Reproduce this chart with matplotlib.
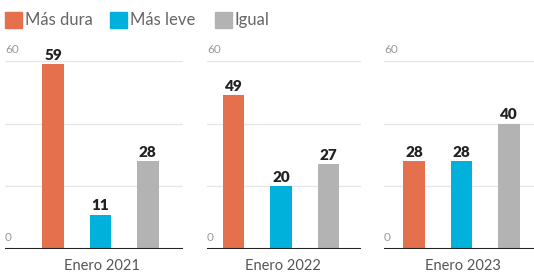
import matplotlib.pyplot as plt
from matplotlib.patches import Rectangle

plt.rcParams['font.family'] = ['Lato', 'DejaVu Sans']

periods = ['Enero 2021', 'Enero 2022', 'Enero 2023']
series = ['Más dura', 'Más leve', 'Igual']
mas_dura = [59, 49, 28]
mas_leve = [11, 20, 28]
igual = [28, 27, 40]
colors = ['#E5704D', '#00B2DB', '#B3B3B3']

W, H = 534, 275
fig = plt.figure(figsize=(W / 100, H / 100), dpi=100)
fig.patch.set_facecolor('white')

# panel extents in pixels (left, right) and the x range shown in each
panels = [(5, 183, -1.01, 2.74), (207, 361, -0.56, 2.68), (384, 534, -0.63, 2.53)]
y0, y1 = 249, 61

for i, (px0, px1, xa, xb) in enumerate(panels):
    ax = fig.add_axes([px0 / W, (H - y0) / H, (px1 - px0) / W, (y0 - y1) / H])
    ax.set_xlim(xa, xb)
    ax.set_ylim(0, 60)
    ax.axis('off')
    for g in [20, 40, 60]:
        ax.axhline(g, color='#e6e6e6', lw=1, zorder=0)
    vals = [mas_dura[i], mas_leve[i], igual[i]]
    ax.bar(range(3), vals, width=0.45, color=colors, zorder=2)
    for x, v in enumerate(vals):
        ax.text(x, v + 0.8, str(v), ha='center', va='bottom', fontsize=11,
                fontweight='heavy', color='#222222', zorder=3)
    ax.axhline(0, color='#222222', lw=1.5, zorder=4)
    for t in [0, 60]:
        ax.text(xa, t + 2, str(t), ha='left', va='bottom', fontsize=8.5,
                color='#999999', zorder=3)
    ax.text(1.04, -3.2, periods[i], ha='center', va='top',
            fontsize=10.5, color='#555555', clip_on=False)

# legend
lx = [5, 110, 215]
for c, name, x in zip(colors, series, lx):
    fig.patches.append(Rectangle((x / W, (H - 28) / H), 17 / W, 16 / H,
                                 transform=fig.transFigure, color=c))
    fig.text((x + 20) / W, (H - 20) / H, name, ha='left', va='center',
             fontsize=12, color='#666666')

fig.savefig('out.png', dpi=100, facecolor='white')
